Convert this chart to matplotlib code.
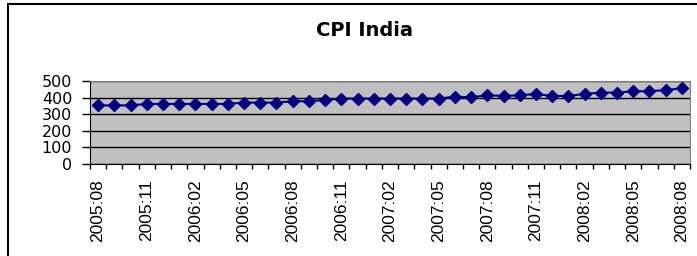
import matplotlib.pyplot as plt
from matplotlib.patches import Rectangle
from matplotlib.ticker import FixedLocator, NullFormatter

plt.rcParams['font.family'] = ['Liberation Sans', 'DejaVu Sans']

# monthly CPI India, 2005:08 .. 2008:08
months = []
for y in (2005, 2006, 2007, 2008):
    for m in range(1, 13):
        if (y == 2005 and m < 8) or (y == 2008 and m > 8):
            continue
        months.append(f"{y}:{m:02d}")

cpi = [353, 353, 353, 362, 362, 362, 362, 362, 362, 370,
       370, 370, 378, 378, 386, 394, 394, 394, 394, 394,
       394, 394, 406, 402, 414, 410, 414, 422, 410, 410,
       422, 430, 430, 438, 438, 446, 455]

y_ticks = [0, 100, 200, 300, 400, 500]

fig = plt.figure(figsize=(6.97, 2.56), dpi=100)
ax = fig.add_axes([90 / 697, 1 - 164 / 256, 600 / 697, 83 / 256])

x = list(range(len(cpi)))
ax.plot(x, cpi, color='#000080', marker='D', markersize=6.5, linewidth=1.5, zorder=3)

ax.set_facecolor('#C0C0C0')
ax.set_xlim(-0.5, len(cpi) - 0.5)
ax.set_ylim(0, 500)
ax.set_yticks(y_ticks)
ax.yaxis.grid(True, color='black', linewidth=1)
ax.set_axisbelow(True)

ax.set_xticks(x[::3])
ax.set_xticklabels(months[::3], rotation=90, fontsize=12.5)
ax.tick_params(axis='x', which='major', length=0, pad=11)
ax.xaxis.set_minor_locator(FixedLocator([i - 0.5 for i in range(len(cpi) + 1)]))
ax.xaxis.set_minor_formatter(NullFormatter())
ax.tick_params(axis='x', which='minor', length=3.6, width=1, color='black')
ax.tick_params(axis='y', length=5.8, width=1, pad=7)
for t in ax.get_yticklabels():
    t.set_fontfamily(['DejaVu Sans'])
    t.set_fontsize(11.5)

for side in ('top', 'right'):
    ax.spines[side].set_color('#808080')
for side in ('left', 'bottom'):
    ax.spines[side].set_color('black')

fig.text(364 / 697, 1 - 30 / 256, 'CPI India', ha='center', va='center',
         fontsize=14, fontweight='bold', family=['DejaVu Sans'])

fig.patches.append(Rectangle((7.5 / 697, -0.1), 1.2, 1.1 - 4 / 256,
                             transform=fig.transFigure, fill=False,
                             edgecolor='black', linewidth=1.5))

fig.savefig('out.png', dpi=100)
